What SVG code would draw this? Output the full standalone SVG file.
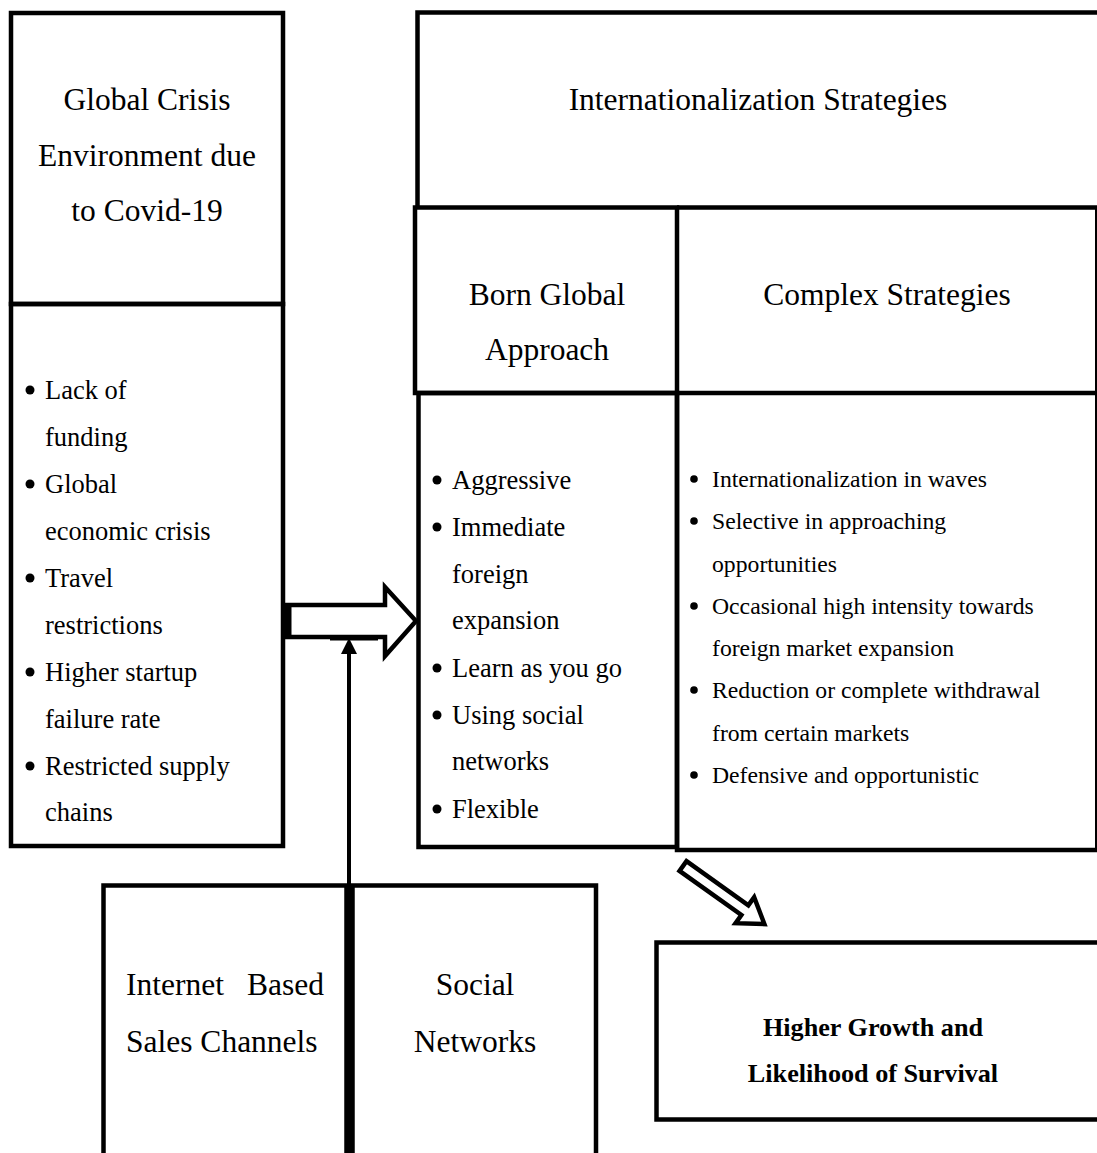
<svg xmlns="http://www.w3.org/2000/svg" width="1097" height="1153" viewBox="0 0 1097 1153">
<style>
.b{fill:none;stroke:#000;stroke-width:4.5}
.t{stroke:#000;stroke-width:2;fill:none}
.h{font-family:"Liberation Serif","Times New Roman",serif;font-size:31.5px;fill:#000;text-anchor:middle}
.l{font-family:"Liberation Serif","Times New Roman",serif;font-size:26.5px;fill:#000}
.s{font-family:"Liberation Serif","Times New Roman",serif;font-size:23.7px;fill:#000}
.g{font-family:"Liberation Serif","Times New Roman",serif;font-size:26.2px;font-weight:bold;fill:#000;text-anchor:middle}
.a{fill:#fff;stroke:#000;stroke-width:4.5;stroke-linejoin:miter}
</style>
<rect width="1097" height="1153" fill="#fff"/>
<g id="crisis">
<rect class="b" x="11" y="13" width="272" height="291"/>
<text class="h" x="147" y="110">Global Crisis</text>
<text class="h" x="147" y="166">Environment due</text>
<text class="h" x="147" y="221">to Covid-19</text>
</g>
<g id="crisis-factors">
<rect class="b" x="11" y="304" width="272" height="542"/>
<g class="l">
<circle cx="30" cy="390" r="4.5"/><text x="45" y="399">Lack of</text>
<text x="45" y="446">funding</text>
<circle cx="30" cy="484" r="4.5"/><text x="45" y="493">Global</text>
<text x="45" y="540">economic crisis</text>
<circle cx="30" cy="578" r="4.5"/><text x="45" y="587">Travel</text>
<text x="45" y="634">restrictions</text>
<circle cx="30" cy="672" r="4.5"/><text x="45" y="681">Higher startup</text>
<text x="45" y="728">failure rate</text>
<circle cx="30" cy="766" r="4.5"/><text x="45" y="775">Restricted supply</text>
<text x="45" y="821">chains</text>
</g>
</g>
<g id="internationalization">
<path class="b" d="M417.5,208 V12.5 H1100"/>
<text class="h" x="758" y="110">Internationalization Strategies</text>
</g>
<g id="born-global">
<rect class="b" x="415" y="207.5" width="262" height="185.5"/>
<text class="h" x="547" y="305">Born Global</text>
<text class="h" x="547" y="360">Approach</text>
</g>
<g id="complex">
<path class="b" d="M677,207.5 H1100 M677,393 H1100"/>
<path class="t" d="M1096,208 V850"/>
<text class="h" x="887" y="305">Complex Strategies</text>
</g>
<g id="born-global-traits">
<rect class="b" x="418.5" y="393" width="258.5" height="454"/>
<g class="l">
<circle cx="437" cy="480" r="4.5"/><text x="452" y="489">Aggressive</text>
<circle cx="437" cy="527" r="4.5"/><text x="452" y="536">Immediate</text>
<text x="452" y="583">foreign</text>
<text x="452" y="629">expansion</text>
<circle cx="437" cy="668" r="4.5"/><text x="452" y="677">Learn as you go</text>
<circle cx="437" cy="715" r="4.5"/><text x="452" y="724">Using social</text>
<text x="452" y="770">networks</text>
<circle cx="437" cy="809" r="4.5"/><text x="452" y="818">Flexible</text>
</g>
</g>
<g id="complex-traits">
<path class="b" d="M677,393 V850 H1100"/>
<g class="s">
<circle cx="694" cy="479" r="3.8"/><text x="712" y="487">Internationalization in waves</text>
<circle cx="694" cy="521" r="3.8"/><text x="712" y="529">Selective in approaching</text>
<text x="712" y="572">opportunities</text>
<circle cx="694" cy="606" r="3.8"/><text x="712" y="614">Occasional high intensity towards</text>
<text x="712" y="656">foreign market expansion</text>
<circle cx="694" cy="690" r="3.8"/><text x="712" y="698"> Reduction or complete withdrawal</text>
<text x="712" y="741">from certain markets</text>
<circle cx="694" cy="775" r="3.8"/><text x="712" y="783">Defensive and opportunistic</text>
</g>
</g>
<g id="internet">
<path class="b" d="M103.5,1160 V885.5 H346.5 V1160"/>
<text class="h" x="126" y="995" style="text-anchor:start">Internet</text>
<text class="h" x="324" y="995" style="text-anchor:end">Based</text>
<text class="h" x="126" y="1052" style="text-anchor:start">Sales Channels</text>
</g>
<g id="social">
<path class="b" d="M352.5,1160 V885.5 H596 V1160"/>
<text class="h" x="475" y="995">Social</text>
<text class="h" x="475" y="1052">Networks</text>
</g>
<g id="outcome">
<path class="b" d="M1100,942.5 H656.5 V1119.5 H1100"/>
<text class="g" x="873" y="1036">Higher Growth and</text>
<text class="g" x="873" y="1082">Likelihood of Survival</text>
</g>
<g id="connectors">
<polygon class="a" points="287,605 385,605 385,587 416,621 385,656 385,637 287,637"/>
<line x1="289" y1="605" x2="289" y2="637" stroke="#000" stroke-width="5"/>
<line x1="349" y1="1153" x2="349" y2="650" stroke="#000" stroke-width="4"/>
<polygon points="349,638 341,654 357,654" fill="#000"/>
<line x1="330" y1="638" x2="378" y2="638" stroke="#000" stroke-width="5"/>
<g transform="translate(683,866) rotate(35.5)">
<polygon class="a" points="0,-6 76,-6 76,-16 100,0 76,16 76,6 0,6"/>
</g>
</g>
</svg>
